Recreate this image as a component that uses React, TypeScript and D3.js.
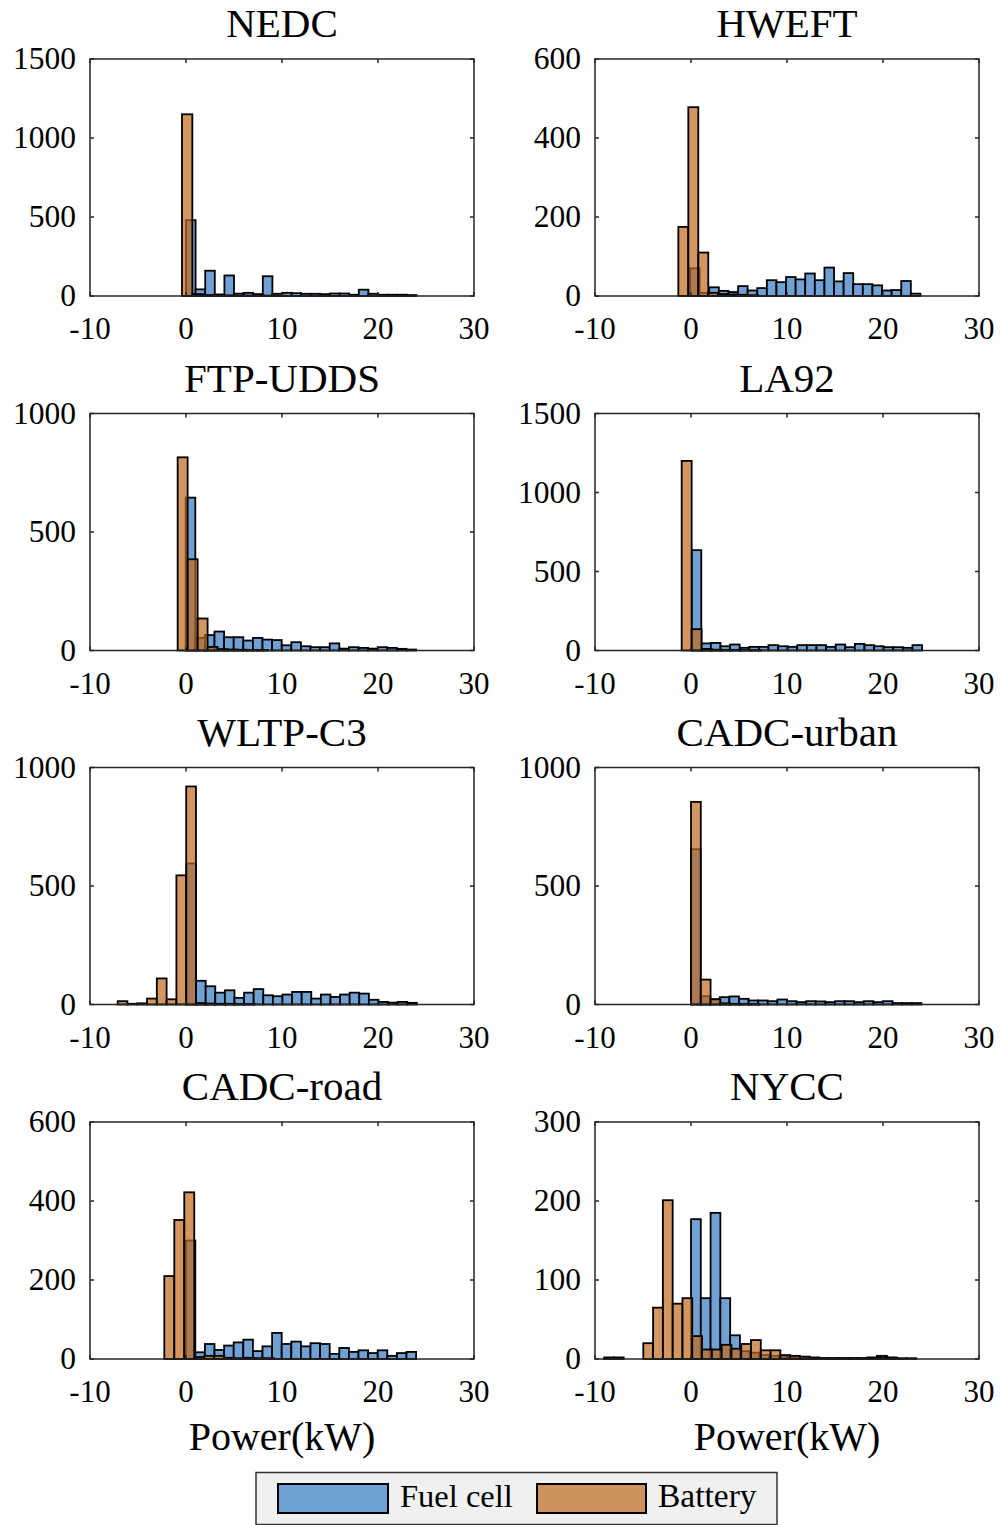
import React from "react";
import * as d3 from "d3";

// ---------- data ----------
const titles = ["NEDC", "HWEFT", "FTP-UDDS", "LA92", "WLTP-C3", "CADC-urban", "CADC-road", "NYCC"];
const yMaxes = [1500, 600, 1000, 1500, 1000, 1000, 600, 300];
const yTickSteps = [500, 200, 500, 500, 500, 500, 200, 100];
const xTicks = [-10, 0, 10, 20, 30];
const seriesNames = ["Fuel cell", "Battery"];

// bin start (kW), bin width (kW), counts
const fcStarts = [0.0, -0.1, -0.03, 0.07, 0.05, 0.0, -0.03, 0.0];
const fcWidths = [1.0, 1.0, 1.0, 1.0, 1.0, 1.0, 1.0, 1.02];
const batStarts = [-0.42, -1.32, -0.87, -0.97, -7.12, 0.0, -2.26, -9.05];
const batWidths = [1.08, 1.04, 1.04, 1.04, 1.02, 1.02, 1.04, 1.02];

const nedcFc = [480, 42, 160, 10, 130, 15, 20, 12, 125, 14, 20, 18, 14, 14, 12, 16, 16, 8, 40, 14, 8, 8, 8, 6];
const nedcBat = [1150, 12, 6, 5, 4, 3, 3, 2, 2, 2];
const hweftFc = [70, 8, 22, 13, 10, 25, 14, 20, 40, 35, 48, 42, 57, 40, 72, 37, 58, 30, 30, 27, 14, 15, 38, 6];
const hweftBat = [175, 478, 110, 8, 5, 4, 3, 2];
const ftpFc = [645, 53, 65, 80, 56, 56, 42, 53, 46, 44, 22, 35, 18, 14, 14, 30, 8, 14, 11, 8, 14, 11, 7, 4];
const ftpBat = [815, 385, 135, 15, 6, 4, 3, 2, 2];
const la92Fc = [635, 45, 48, 27, 38, 17, 23, 23, 34, 27, 23, 34, 34, 34, 23, 38, 21, 42, 34, 27, 21, 21, 17, 34];
const la92Bat = [1200, 135, 10, 5, 4, 3, 2, 2];
const wltpFc = [595, 100, 77, 50, 60, 28, 50, 65, 39, 35, 42, 53, 53, 25, 42, 32, 42, 50, 46, 20, 11, 8, 11, 7];
const wltpBat = [14, 3, 5, 25, 110, 22, 545, 920, 6, 4, 3, 3, 2, 2];
const cadcUrbanFc = [655, 35, 22, 31, 34, 24, 17, 17, 14, 21, 14, 10, 14, 13, 10, 14, 14, 10, 14, 10, 14, 6, 6, 6];
const cadcUrbanBat = [855, 105, 22, 5, 3, 2, 2];
const cadcRoadFc = [300, 17, 38, 23, 34, 42, 49, 20, 32, 66, 38, 44, 32, 40, 38, 13, 28, 18, 22, 15, 22, 8, 15, 18];
const cadcRoadBat = [210, 352, 422, 5, 8, 8, 3, 2, 3, 2, 2];
const nyccFc = [177, 77, 185, 77, 30, 10, 8, 5, 4, 3, 2, 1, 1, 1, 1, 1, 1, 1, 2, 4, 2, 1, 1];
const nyccBat = [2, 2, 0, 0, 20, 65, 201, 70, 77, 29, 12, 12, 18, 13, 19, 24, 11, 11, 5, 4, 3, 2, 1, 1, 1, 1, 1, 1, 2, 1];

const fcCounts = [nedcFc, hweftFc, ftpFc, la92Fc, wltpFc, cadcUrbanFc, cadcRoadFc, nyccFc];
const batCounts = [nedcBat, hweftBat, ftpBat, la92Bat, wltpBat, cadcUrbanBat, cadcRoadBat, nyccBat];

// ---------- style / layout ----------
const FONT = "'Liberation Serif', 'Times New Roman', serif";
const FC_COLOR = "rgb(112,161,212)";
const BAT_COLOR = "rgb(194,105,28)";
const BAT_ALPHA = 0.7;
const AXIS_COLOR = "#262626";
const colLeft = [90, 595];
const rowTop = [59, 413.5, 767.5, 1122];
const plotW = 384;
const plotH = 237;

function Panel({ i }: { i: number }) {
  const col = i % 2;
  const row = Math.floor(i / 2);
  const x0 = colLeft[col];
  const y0 = rowTop[row];
  const x = d3.scaleLinear().domain([-10, 30]).range([x0, x0 + plotW]);
  const y = d3.scaleLinear().domain([0, yMaxes[i]]).range([y0 + plotH, y0]);
  const yTicks = d3.range(0, yMaxes[i] + 1e-9, yTickSteps[i]);
  const tickLen = 4;

  const bars = (counts: number[], start: number, w: number, fill: string, alpha: number, key: string) =>
    counts.map((c, k) => {
      if (c <= 0) return null;
      const a = start + k * w;
      const b = a + w;
      return (
        <rect
          key={key + k}
          x={x(a)}
          y={y(c)}
          width={x(b) - x(a)}
          height={y(0) - y(c)}
          fill={fill}
          fillOpacity={alpha}
          stroke="#000"
          strokeWidth={1.8}
        />
      );
    });

  return (
    <g>
      <rect x={x0} y={y0} width={plotW} height={plotH} fill="#fff" />
      {bars(fcCounts[i], fcStarts[i], fcWidths[i], FC_COLOR, 1, "f")}
      {bars(batCounts[i], batStarts[i], batWidths[i], BAT_COLOR, BAT_ALPHA, "b")}
      <rect x={x0} y={y0} width={plotW} height={plotH} fill="none" stroke={AXIS_COLOR} strokeWidth={1.5} />
      {xTicks.map((t) => (
        <g key={"xt" + t}>
          <line x1={x(t)} x2={x(t)} y1={y0 + plotH} y2={y0 + plotH - tickLen} stroke={AXIS_COLOR} strokeWidth={1.5} />
          <line x1={x(t)} x2={x(t)} y1={y0} y2={y0 + tickLen} stroke={AXIS_COLOR} strokeWidth={1.5} />
          <text x={x(t)} y={y0 + plotH + 43} textAnchor="middle" fontFamily={FONT} fontSize={31} fill="#000">
            {String(t)}
          </text>
        </g>
      ))}
      {yTicks.map((t) => (
        <g key={"yt" + t}>
          <line x1={x0} x2={x0 + tickLen} y1={y(t)} y2={y(t)} stroke={AXIS_COLOR} strokeWidth={1.5} />
          <line x1={x0 + plotW} x2={x0 + plotW - tickLen} y1={y(t)} y2={y(t)} stroke={AXIS_COLOR} strokeWidth={1.5} />
          <text x={x0 - 14} y={y(t)} dy="0.32em" textAnchor="end" fontFamily={FONT} fontSize={31.5} fill="#000">
            {String(t)}
          </text>
        </g>
      ))}
      <text x={x0 + plotW / 2} y={y0 - 22} textAnchor="middle" fontFamily={FONT} fontSize={41} fill="#000">
        {titles[i]}
      </text>
      {row === 3 && (
        <text x={x0 + plotW / 2} y={y0 + plotH + 91} textAnchor="middle" fontFamily={FONT} fontSize={40} fill="#000">
          Power(kW)
        </text>
      )}
    </g>
  );
}

function Legend() {
  return (
    <g>
      <rect x={256} y={1472.5} width={521} height={52} fill="#f0f0f0" stroke="#333" strokeWidth={1.5} />
      <rect x={278} y={1484} width={110} height={29} fill={FC_COLOR} stroke="#000" strokeWidth={2} />
      <text x={400} y={1507} fontFamily={FONT} fontSize={32.5} fill="#000">{seriesNames[0]}</text>
      <rect x={537} y={1484} width={109} height={29} fill={BAT_COLOR} fillOpacity={BAT_ALPHA} stroke="#000" strokeWidth={2} />
      <text x={658} y={1507} fontFamily={FONT} fontSize={33.5} fill="#000">{seriesNames[1]}</text>
    </g>
  );
}

export default function App() {
  return (
    <svg
      width={1001}
      height={1525}
      style={{ position: "absolute", left: 0, top: 0, background: "#fff" }}
    >
      <rect x={0} y={0} width={1001} height={1525} fill="#fff" />
      {titles.map((_, i) => (
        <Panel key={i} i={i} />
      ))}
      <Legend />
    </svg>
  );
}
